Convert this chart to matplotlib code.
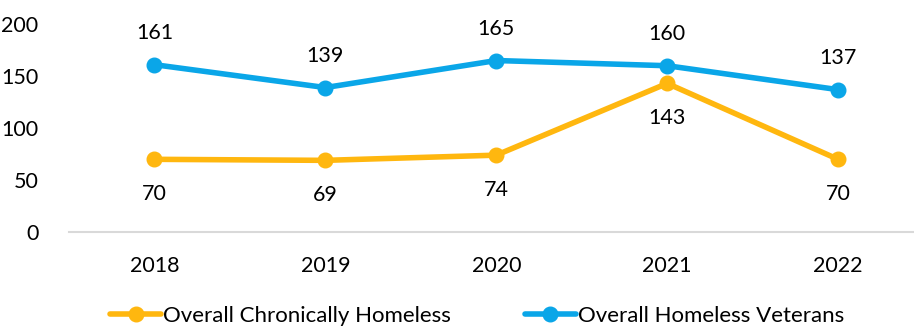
import matplotlib.pyplot as plt

plt.rcParams['font.family'] = ['Lato', 'DejaVu Sans']

years = ['2018', '2019', '2020', '2021', '2022']
chronically_homeless = [70, 69, 74, 143, 70]
homeless_veterans = [161, 139, 165, 160, 137]

orange = '#FFB70F'
blue = '#0AA6E8'

fig = plt.figure(figsize=(9.14, 3.26), dpi=100)
ax = fig.add_axes([0.0755, 0.288, 0.9245, 0.638])

x = list(range(len(years)))
ax.plot(x, chronically_homeless, color=orange, linewidth=4, marker='o',
        markersize=10.5, label='Overall Chronically Homeless', solid_capstyle='round')
ax.plot(x, homeless_veterans, color=blue, linewidth=4, marker='o',
        markersize=10.5, label='Overall Homeless Veterans', solid_capstyle='round')

# value labels: veterans above, chronically homeless below
for i, v in enumerate(homeless_veterans):
    ax.annotate(str(v), (i, v), xytext=(0, 23), textcoords='offset points',
                ha='center', va='center', fontsize=15.5, color='#000000')
for i, v in enumerate(chronically_homeless):
    ax.annotate(str(v), (i, v), xytext=(0, -25), textcoords='offset points',
                ha='center', va='center', fontsize=15.5, color='#000000')

ax.set_xlim(-0.5, 4.444)
ax.set_ylim(0, 200)
ax.set_yticks([0, 50, 100, 150, 200])
ax.set_xticks(x)
ax.set_xticklabels(years)
ax.tick_params(axis='both', length=0, labelsize=15.5)
ax.tick_params(axis='x', pad=17)
ax.tick_params(axis='y', pad=22)

for side in ['top', 'right', 'left']:
    ax.spines[side].set_visible(False)
ax.spines['bottom'].set_color('#D9D9D9')
ax.spines['bottom'].set_linewidth(1.5)

fig.legend(loc='lower center', bbox_to_anchor=(0.522, -0.062), ncol=2, frameon=False,
           fontsize=16, handlelength=2.3, handletextpad=0.1, columnspacing=3.3)

fig.savefig('out.png', dpi=100)
